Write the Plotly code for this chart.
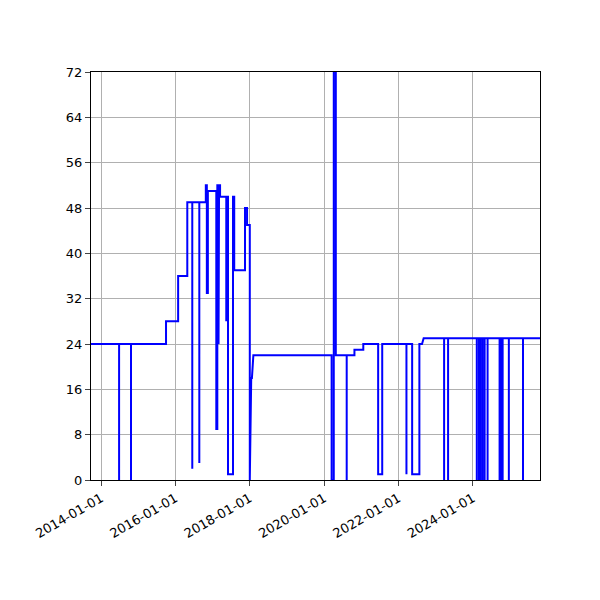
import plotly.graph_objects as go

# step-like series (vertical edges repeat the date)
dates = [
    "2013-09-24", "2014-06-27", "2014-06-27", "2014-06-27",
    "2014-10-22", "2014-10-22", "2014-10-22",
    "2015-10-01", "2015-10-01", "2016-01-28", "2016-01-28",
    "2016-04-27", "2016-04-27", "2016-06-15", "2016-06-15", "2016-06-15",
    "2016-08-23", "2016-08-23", "2016-08-23",
    "2016-10-26", "2016-10-26", "2016-11-05", "2016-11-05", "2016-11-15", "2016-11-15",
    "2017-02-06", "2017-02-06", "2017-02-16", "2017-02-16", "2017-02-28", "2017-02-28",
    "2017-03-05", "2017-03-05", "2017-03-15", "2017-03-15",
    "2017-05-15", "2017-05-15", "2017-05-22", "2017-05-22",
    "2017-06-01", "2017-06-01", "2017-07-20", "2017-07-20", "2017-08-01", "2017-08-01",
    "2017-11-15", "2017-11-15", "2017-12-05", "2017-12-05",
    "2018-01-01", "2018-01-01", "2018-01-15", "2018-01-22", "2018-02-05",
    "2020-03-15", "2020-03-15", "2020-04-05", "2020-04-05", "2020-04-25", "2020-04-25",
    "2020-08-10", "2020-08-10", "2020-08-10",
    "2020-10-25", "2020-10-25", "2021-01-20", "2021-01-20",
    "2021-06-15", "2021-06-15", "2021-07-25", "2021-07-25",
    "2022-03-20", "2022-03-20", "2022-03-20",
    "2022-05-15", "2022-05-15", "2022-07-25", "2022-07-25",
    "2022-08-20", "2022-09-05",
    "2023-03-25", "2023-03-25", "2023-03-25",
    "2023-05-03", "2023-05-03", "2023-05-03",
    "2024-02-09", "2024-02-09", "2024-02-09",
    "2024-03-01", "2024-03-01", "2024-03-01",
    "2024-03-17", "2024-03-17", "2024-03-17",
    "2024-04-06", "2024-04-06", "2024-04-06",
    "2024-04-26", "2024-04-26", "2024-04-26",
    "2024-05-25", "2024-05-25", "2024-05-25",
    "2024-09-20", "2024-09-20", "2024-09-20",
    "2024-10-05", "2024-10-05", "2024-10-05",
    "2024-10-20", "2024-10-20", "2024-10-20",
    "2024-12-20", "2024-12-20", "2024-12-20",
    "2025-05-08", "2025-05-08", "2025-05-08",
    "2025-10-22",
]
values = [
    24, 24, 0, 24,
    24, 0, 24,
    24, 28, 28, 36,
    36, 49, 49, 2, 49,
    49, 3, 49,
    49, 52, 52, 33, 33, 51,
    51, 9, 9, 52, 52, 24,
    24, 52, 52, 50,
    50, 28, 28, 50,
    50, 1, 1, 50, 50, 37,
    37, 48, 48, 45,
    45, 0, 18, 18, 22,
    22, 0, 0, 100, 100, 22,
    22, 0, 22,
    22, 23, 23, 24,
    24, 1, 1, 24,
    24, 1, 24,
    24, 1, 1, 24,
    24, 25,
    25, 0, 25,
    25, 0, 25,
    25, 0, 25,
    25, 0, 25,
    25, 0, 25,
    25, 0, 25,
    25, 0, 25,
    25, 0, 25,
    25, 0, 25,
    25, 0, 25,
    25, 0, 25,
    25, 0, 25,
    25, 0, 25,
    25,
]
tick_dates = ["2014-01-01", "2016-01-01", "2018-01-01", "2020-01-01", "2022-01-01", "2024-01-01"]
y_ticks = [0, 8, 16, 24, 32, 40, 48, 56, 64, 72]

fig = go.Figure()
fig.add_trace(go.Scatter(x=dates, y=values, mode="lines",
                         line=dict(color="blue", width=2)))

fig.update_layout(
    width=600, height=600, showlegend=False,
    plot_bgcolor="white", paper_bgcolor="white",
    margin=dict(l=83, r=68, t=64, b=128),
    font=dict(family="DejaVu Sans", size=13, color="black"),
)
fig.update_xaxes(range=["2013-09-24", "2025-10-22"], tickvals=tick_dates, ticktext=tick_dates,
                 tickangle=-30, showgrid=True, gridcolor="#b0b0b0", showline=True, mirror=True,
                 linecolor="black", ticks="outside", zeroline=False)
fig.update_yaxes(range=[0, 72], tickvals=y_ticks, showgrid=True, gridcolor="#b0b0b0",
                 showline=True, mirror=True, linecolor="black", ticks="outside", zeroline=False)

fig.write_html("out.html")
